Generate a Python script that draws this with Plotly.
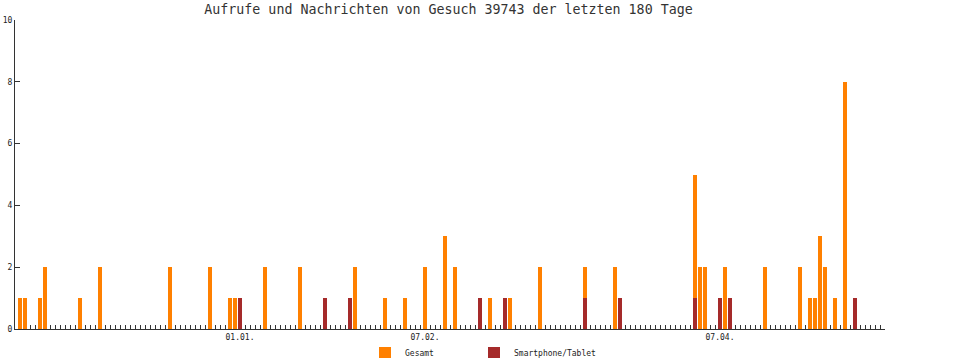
import plotly.graph_objects as go

# Day index (0 = first day of the window) for days with activity
active_days = [0, 1, 4, 5, 12, 16, 30, 38, 42, 43, 44, 49, 56, 61, 66, 67, 73, 77, 81, 85,
               87, 92, 94, 97, 98, 104, 113, 119, 120, 135, 136, 137, 140, 141, 142, 149,
               156, 158, 159, 160, 161, 163, 165, 167]
total_views = [1, 1, 1, 2, 1, 2, 2, 2, 1, 1, 1, 2, 2, 1, 1, 2, 1, 1, 2, 3,
               2, 1, 1, 1, 1, 2, 2, 2, 1, 5, 2, 2, 1, 2, 1, 2,
               2, 1, 1, 3, 2, 1, 8, 1]
mobile_views = [0, 0, 0, 0, 0, 0, 0, 0, 0, 0, 1, 0, 0, 1, 1, 0, 0, 0, 0, 0,
                0, 1, 0, 1, 0, 0, 1, 0, 1, 1, 0, 0, 1, 0, 1, 0,
                0, 0, 0, 0, 0, 0, 0, 1]
n_days = 173
tick_days = [44, 81, 140]
tick_labels = ["01.01.", "07.02.", "07.04."]
y_ticks = [0, 2, 4, 6, 8, 10]

FONT = "DejaVu Sans Mono"
ORANGE = "#ff8000"
RED = "#a52a2a"
AXIS = "#333333"
TEXT = "#222222"

fig = go.Figure()
fig.add_trace(go.Bar(x=active_days, y=total_views, name="Gesamt", legend="legend",
                     marker=dict(color=ORANGE, line=dict(width=0)), width=0.8))
fig.add_trace(go.Bar(x=active_days, y=mobile_views, name="Smartphone/Tablet", legend="legend2",
                     marker=dict(color=RED, line=dict(width=0)), width=0.8))

all_ticks = list(range(n_days))
all_text = [tick_labels[tick_days.index(d)] if d in tick_days else "" for d in all_ticks]

legend_common = dict(orientation="h", xanchor="left", y=1 - 353 / 358, yanchor="middle",
                     xref="container", yref="container", itemwidth=30,
                     font=dict(family=FONT, size=8, color=TEXT),
                     bgcolor="rgba(0,0,0,0)")

fig.update_layout(
    width=970, height=358,
    margin=dict(l=15, r=85, t=20, b=29, autoexpand=False),
    paper_bgcolor="white", plot_bgcolor="white",
    barmode="overlay",
    bargap=0,
    title=dict(text="Aufrufe und Nachrichten von Gesuch 39743 der letzten 180 Tage",
               x=448.5 / 970, xanchor="center", y=1 - 9 / 358, yanchor="middle",
               xref="container", yref="container",
               font=dict(family=FONT, size=13.3, color=AXIS)),
    showlegend=True,
    legend=dict(x=365 / 970, **legend_common),
    legend2=dict(x=474 / 970, **legend_common),
    xaxis=dict(range=[-1, n_days], tickmode="array", tickvals=all_ticks, ticktext=all_text,
               ticks="inside", ticklen=4, tickwidth=1, tickcolor=AXIS, automargin=False,
               showline=True, linecolor=AXIS, linewidth=1, showgrid=False, zeroline=False,
               tickfont=dict(family=FONT, size=8, color=TEXT), layer="below traces"),
    yaxis=dict(range=[0, 10], tickmode="array", tickvals=y_ticks, automargin=False,
               ticks="inside", ticklen=5, tickwidth=1, tickcolor=AXIS,
               showline=True, linecolor=AXIS, linewidth=1, showgrid=False, zeroline=False,
               tickfont=dict(family=FONT, size=8, color=TEXT), layer="below traces"),
)

fig.write_html("out.html", config={"displayModeBar": False},
               post_script="document.body.style.margin='0';document.body.style.overflow='hidden';")
